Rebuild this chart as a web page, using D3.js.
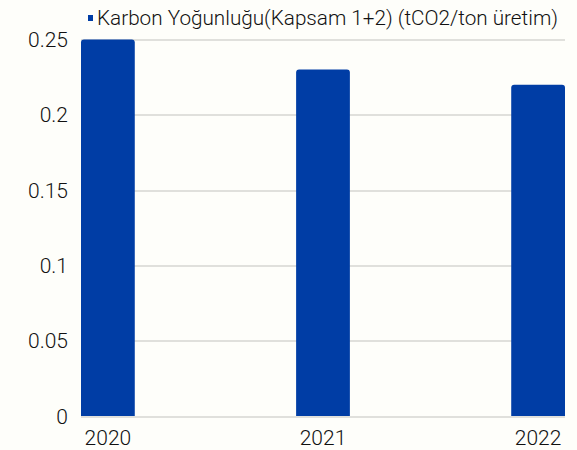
<!DOCTYPE html>
<html>
<head>
<meta charset="utf-8">
<script src="https://cdn.jsdelivr.net/npm/d3@7"></script>
<style>
  body { margin: 0; background: #fefefa; }
  text { font-family: Roboto, "Noto Sans", sans-serif; font-weight: 300; fill: #111; }
</style>
</head>
<body>
<div id="chart"></div>
<script>
const years = ['2020', '2021', '2022']
const values = [0.25, 0.23, 0.22]
const yTicks = [0, 0.05, 0.1, 0.15, 0.2, 0.25]
const seriesName = 'Karbon Yoğunluğu(Kapsam 1+2) (tCO2/ton üretim)'

const W = 577
const H = 450
const margin = { top: 39.5, right: 12, bottom: 34, left: 81 }
const width = W - margin.left - margin.right
const height = H - margin.top - margin.bottom

const svg = d3.select('#chart').append('svg')
    .attr('width', W)
    .attr('height', H)

svg.append('rect')
    .attr('width', W)
    .attr('height', H)
    .attr('fill', '#fefefa')

const g = svg.append('g')
    .attr('transform', `translate(${margin.left},${margin.top})`)

const x = d3.scaleBand()
    .domain(years)
    .range([0, width])
    .paddingInner(0.75)
    .paddingOuter(0)

const y = d3.scaleLinear()
    .domain([0, 0.25])
    .range([height, 0])

// grid lines
g.selectAll('.grid')
    .data(yTicks)
    .enter().append('line')
    .attr('class', 'grid')
    .attr('x1', 0)
    .attr('x2', width)
    .attr('y1', d => Math.round(y(d)) + 0.5)
    .attr('y2', d => Math.round(y(d)) + 0.5)
    .attr('stroke', '#d6d6d2')
    .attr('stroke-width', 1.5)

// y labels
g.selectAll('.ylab')
    .data(yTicks)
    .enter().append('text')
    .attr('class', 'ylab')
    .attr('x', -13)
    .attr('y', d => y(d))
    .attr('dy', '0.36em')
    .attr('text-anchor', 'end')
    .style('font-size', '21px')
    .text(d => d)

// bars with rounded top corners
const r = 3
const data = years.map((yr, i) => ({ year: yr, value: values[i] }))
g.selectAll('.bar')
    .data(data)
    .enter().append('path')
    .attr('class', 'bar')
    .attr('fill', '#003da5')
    .attr('d', d => {
        const x0 = x(d.year)
        const x1 = x0 + x.bandwidth()
        const y0 = y(d.value)
        const yb = y(0)
        return `M${x0},${yb}V${y0 + r}Q${x0},${y0} ${x0 + r},${y0}H${x1 - r}Q${x1},${y0} ${x1},${y0 + r}V${yb}Z`
    })

// x labels
g.selectAll('.xlab')
    .data(years)
    .enter().append('text')
    .attr('class', 'xlab')
    .attr('x', d => x(d) + x.bandwidth() / 2)
    .attr('y', height + 21)
    .attr('dy', '0.36em')
    .attr('text-anchor', 'middle')
    .style('font-size', '21px')
    .text(d => d)

// legend
svg.append('rect')
    .attr('x', 88)
    .attr('y', 15)
    .attr('width', 5)
    .attr('height', 6)
    .attr('fill', '#003da5')

svg.append('text')
    .attr('x', 97)
    .attr('y', 25)
    .style('font-size', '20px')
    .attr('textLength', 461)
    .attr('lengthAdjust', 'spacingAndGlyphs')
    .text(seriesName)
</script>
</body>
</html>
